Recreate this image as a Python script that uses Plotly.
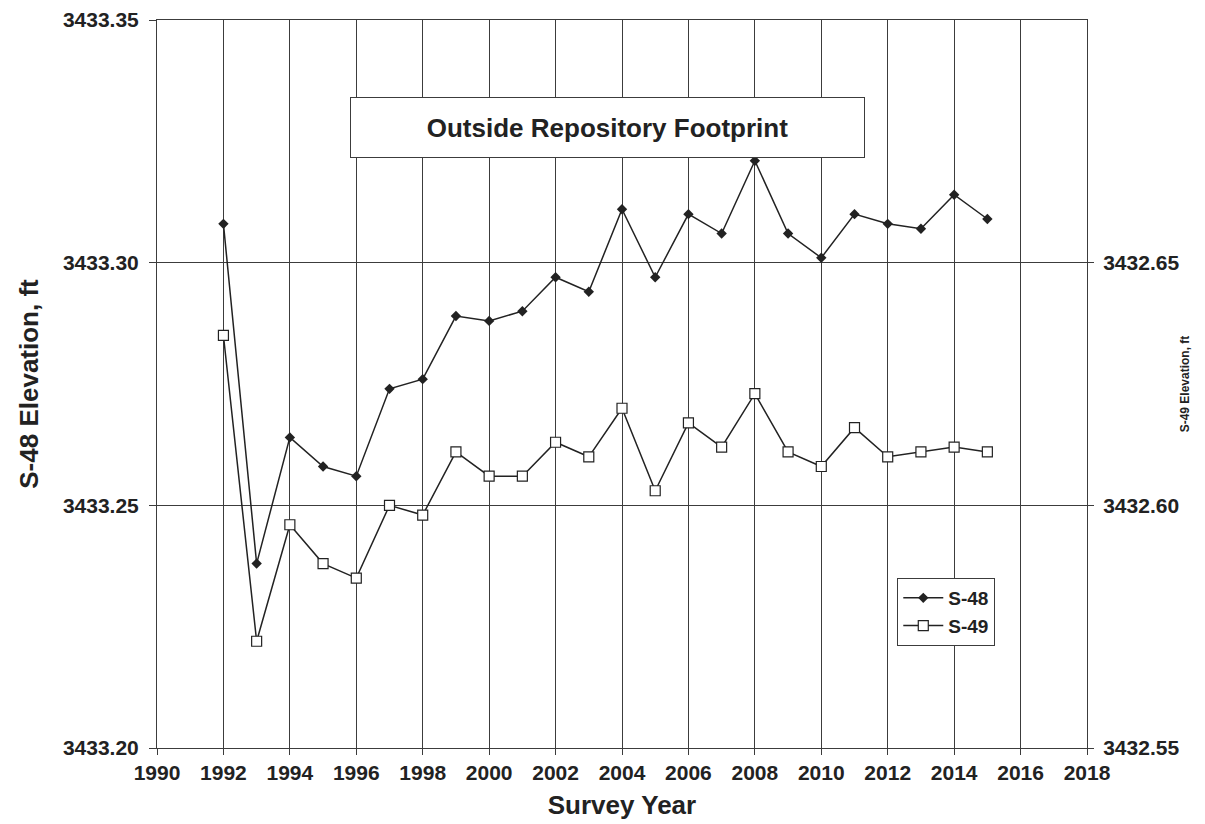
import plotly.graph_objects as go

years = list(range(1992, 2016))
s48 = [3433.308, 3433.238, 3433.264, 3433.258, 3433.256, 3433.274, 3433.276, 3433.289,
       3433.288, 3433.290, 3433.297, 3433.294, 3433.311, 3433.297, 3433.310, 3433.306,
       3433.321, 3433.306, 3433.301, 3433.310, 3433.308, 3433.307, 3433.314, 3433.309]
s49 = [3432.635, 3432.572, 3432.596, 3432.588, 3432.585, 3432.600, 3432.598, 3432.611,
       3432.606, 3432.606, 3432.613, 3432.610, 3432.620, 3432.603, 3432.617, 3432.612,
       3432.623, 3432.611, 3432.608, 3432.616, 3432.610, 3432.611, 3432.612, 3432.611]
x_ticks = list(range(1990, 2019, 2))
left_ticks = [3433.20, 3433.25, 3433.30, 3433.35]
right_ticks = [3432.55, 3432.60, 3432.65]

FONT = "Liberation Sans, Arial, sans-serif"
INK = "#222222"
GRID = "#3c3c3c"

fig = go.Figure()
fig.add_trace(go.Scatter(
    x=years, y=s48, name="<b>S-48</b>", mode="lines+markers",
    line=dict(color=INK, width=1.5),
    marker=dict(symbol="diamond", size=8, color=INK),
))
fig.add_trace(go.Scatter(
    x=years, y=s49, name="<b>S-49</b>", mode="lines+markers", yaxis="y2",
    line=dict(color=INK, width=1.5),
    marker=dict(symbol="square", size=10, color="white", line=dict(color=INK, width=1.2)),
))

fig.update_layout(
    width=1197, height=816,
    margin=dict(l=149, r=118, t=12, b=76, autoexpand=False),
    paper_bgcolor="white", plot_bgcolor="white",
    font=dict(family=FONT, color=INK),
    hovermode=False,
    xaxis=dict(
        range=[1990, 2018], tickvals=x_ticks,
        ticktext=[f"<b>{v}</b>" for v in x_ticks],
        tickfont=dict(size=21, family=FONT, color=INK),
        showgrid=True, gridcolor=GRID, gridwidth=1,
        showline=True, linecolor=GRID, linewidth=1, mirror=True,
        ticks="outside", ticklen=6, tickcolor=GRID,
        zeroline=False, automargin=False,
        title=dict(text="<b>Survey Year</b>", font=dict(size=26, family=FONT, color=INK), standoff=12),
    ),
    yaxis=dict(
        range=[3433.20, 3433.35], tickvals=left_ticks,
        ticktext=[f"<b>{v:.2f}</b>" for v in left_ticks],
        tickfont=dict(size=21, family=FONT, color=INK),
        showgrid=True, gridcolor=GRID, gridwidth=1,
        showline=True, linecolor=GRID, linewidth=1,
        ticks="outside", ticklen=7, tickcolor=GRID, ticklabelstandoff=6,
        zeroline=False, automargin=False,
        title=dict(text="<b>S-48 Elevation, ft</b>", font=dict(size=26, family=FONT, color=INK), standoff=16),
    ),
    yaxis2=dict(
        range=[3432.55, 3432.70], overlaying="y", side="right",
        tickvals=right_ticks,
        ticktext=[f"<b>{v:.2f}</b>" for v in right_ticks],
        tickfont=dict(size=21, family=FONT, color=INK),
        showgrid=False,
        showline=True, linecolor=GRID, linewidth=1,
        ticks="outside", ticklen=6, tickcolor=GRID, ticklabelstandoff=5,
        zeroline=False, automargin=False,
        title=dict(text="<b>S-49 Elevation, ft</b>", font=dict(size=12, family=FONT, color=INK), standoff=2),
    ),
    legend=dict(
        x=0.796, y=0.2335, xanchor="left", yanchor="top",
        bgcolor="white", bordercolor=GRID, borderwidth=1,
        font=dict(size=19, family=FONT, color=INK),
        itemwidth=40, tracegroupgap=2,
    ),
    showlegend=True,
)

fig.add_annotation(
    xref="paper", yref="paper", x=0.4842, y=0.852,
    text="<b>Outside Repository Footprint</b>", showarrow=False,
    font=dict(size=26, family=FONT, color=INK),
    width=513, height=59,
    bgcolor="white", bordercolor=GRID, borderwidth=1, borderpad=0,
    xanchor="center", yanchor="middle",
)

fig.write_html("out.html")
